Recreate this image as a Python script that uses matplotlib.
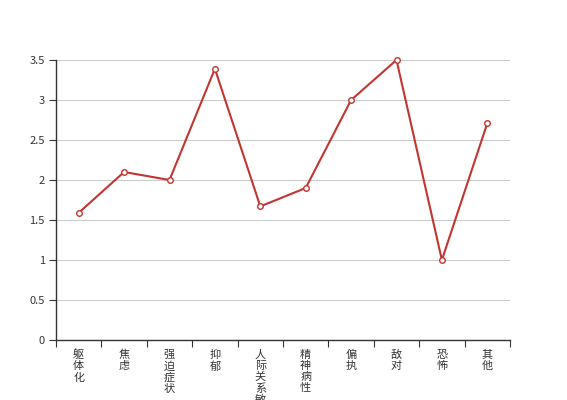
import matplotlib.pyplot as plt
import numpy as np

plt.rcParams['font.family'] = ['Noto Sans CJK SC', 'DejaVu Sans']

# 因子名称与得分
categories = ["躯体化", "焦虑", "强迫症状", "抑郁", "人际关系敏感",
              "精神病性", "偏执", "敌对", "恐怖", "其他"]
scores = [1.59, 2.1, 2.0, 3.39, 1.67, 1.9, 3.0, 3.5, 1.0, 2.71]
yticks = [0, 0.5, 1, 1.5, 2, 2.5, 3, 3.5]
ytick_labels = ["0", "0.5", "1", "1.5", "2", "2.5", "3", "3.5"]

W, H = 567, 400
fig = plt.figure(figsize=(W / 100, H / 100), dpi=100)
ax = fig.add_axes([56 / W, (H - 340) / H, (510 - 56) / W, 280 / H])

n = len(categories)
x = np.arange(n)
ax.plot(x, scores, color="#c23531", lw=1.5, marker="o", markersize=4,
        markerfacecolor="white", markeredgecolor="#c23531", markeredgewidth=1,
        zorder=3, clip_on=False)

ax.set_xlim(-0.5, n - 0.5)
ax.set_ylim(0, 3.5)

# y axis
ax.set_yticks(yticks)
ax.set_yticklabels(ytick_labels, fontsize=8, color="#333333")
ax.yaxis.grid(True, color="#cccccc", lw=0.8)
ax.set_axisbelow(True)

# x axis: ticks on band boundaries, labels at centers
ax.set_xticks(np.arange(n + 1) - 0.5)
ax.set_xticklabels([])
ax.set_xticks(x, minor=True)
ax.set_xticklabels(["\n".join(c) for c in categories], minor=True,
                   fontsize=8, color="#333333", linespacing=1.12, va="top")
ax.tick_params(axis="x", which="minor", length=0, pad=7)
ax.tick_params(axis="x", which="major", length=5, color="#333333")
ax.tick_params(axis="y", length=5, color="#333333", pad=3)

for s in ["top", "right"]:
    ax.spines[s].set_visible(False)
for s in ["left", "bottom"]:
    ax.spines[s].set_color("#333333")
    ax.spines[s].set_linewidth(1)

fig.savefig("out.png", dpi=100)
